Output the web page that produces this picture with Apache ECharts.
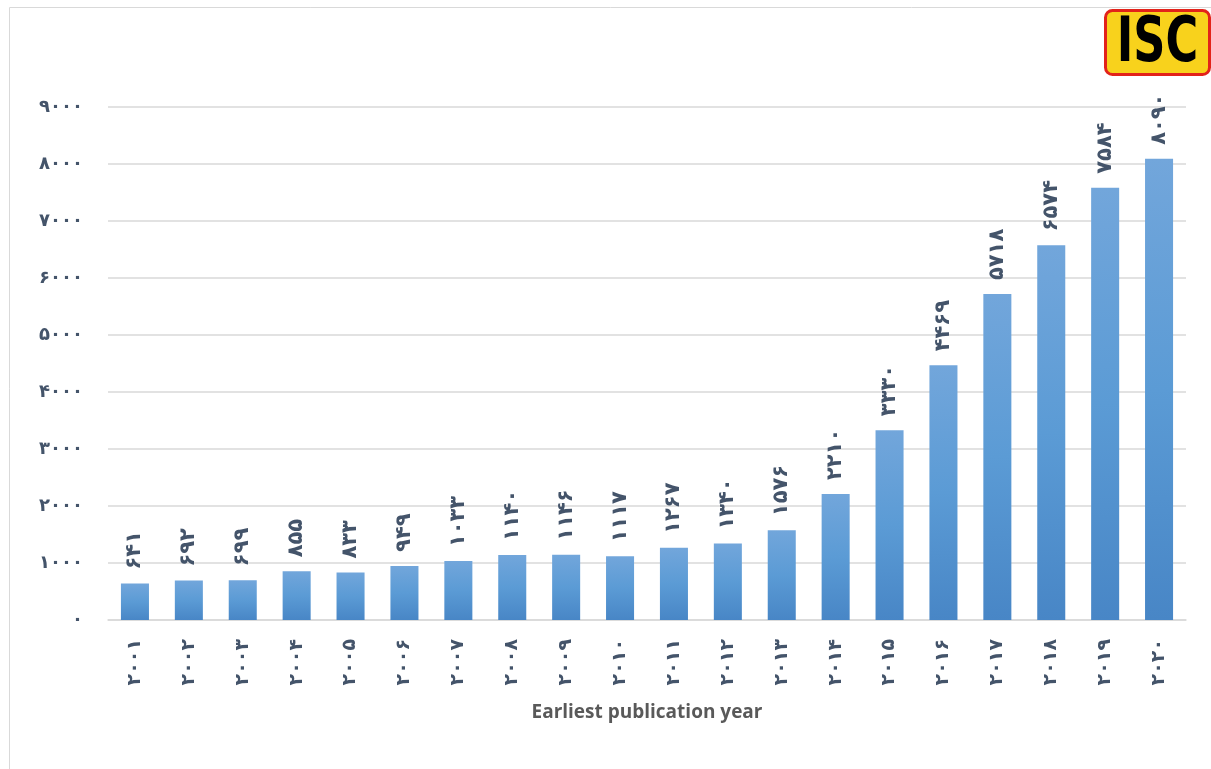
<!DOCTYPE html>
<html>
<head>
<meta charset="utf-8">
<script src="https://cdn.jsdelivr.net/npm/echarts@6/dist/echarts.min.js"></script>
<style>
  html, body { margin: 0; padding: 0; background: #fff; }
  #chart { width: 1211px; height: 769px; }
</style>
</head>
<body>
<div id="chart"></div>
<script>
// publication years and counts
const years = [2001, 2002, 2003, 2004, 2005, 2006, 2007, 2008, 2009, 2010,
               2011, 2012, 2013, 2014, 2015, 2016, 2017, 2018, 2019, 2020];
const counts = [641, 692, 699, 855, 833, 949, 1033, 1140, 1146, 1117,
                1267, 1340, 1576, 2210, 3330, 4469, 5718, 6574, 7584, 8090];
const yMax = 9000;
const yStep = 1000;
const xTitle = 'Earliest publication year';

// western digits -> persian digits
const fa = v => String(v).replace(/\d/g, d => '۰۱۲۳۴۵۶۷۸۹'[d]);

const labelColor = '#44546a';
const gridColor = '#d9d9d9';

const chart = echarts.init(document.getElementById('chart'));

chart.setOption({
  animation: false,
  grid: { left: 108, top: 107, width: 1078, height: 513, containLabel: false },
  xAxis: {
    type: 'category',
    data: years,
    axisLine: { lineStyle: { color: gridColor, width: 1.5 } },
    axisTick: { show: false },
    axisLabel: {
      rotate: 90,
      margin: 19,
      color: labelColor,
      fontFamily: 'DejaVu Sans',
      fontWeight: 'bold',
      fontSize: 19,
      formatter: v => fa(v)
    },
    name: xTitle,
    nameLocation: 'middle',
    nameGap: 83,
    nameTextStyle: {
      color: '#595959',
      fontFamily: 'Open Sans',
      fontWeight: 'bold',
      fontSize: 19
    }
  },
  yAxis: {
    type: 'value',
    min: 0,
    max: yMax,
    interval: yStep,
    axisLine: { show: false },
    axisTick: { show: false },
    splitLine: { lineStyle: { color: gridColor, width: 1.5 } },
    axisLabel: {
      margin: 25,
      color: labelColor,
      fontFamily: 'DejaVu Sans',
      fontWeight: 'bold',
      fontSize: 18,
      formatter: v => fa(v)
    }
  },
  series: [{
    type: 'bar',
    data: counts,
    barWidth: '52%',
    itemStyle: {
      color: new echarts.graphic.LinearGradient(0, 0, 0, 1, [
        { offset: 0, color: '#72a6db' },
        { offset: 0.5, color: '#5b9bd5' },
        { offset: 1, color: '#4886c6' }
      ])
    },
    label: {
      show: true,
      position: 'top',
      rotate: 90,
      align: 'left',
      verticalAlign: 'middle',
      distance: 14,
      color: labelColor,
      fontFamily: 'DejaVu Sans',
      fontWeight: 'bold',
      fontSize: 21,
      formatter: p => fa(p.value)
    }
  }],
  graphic: [
    {
      type: 'rect',
      left: 7, top: 5,
      shape: { width: 1230, height: 800 },
      style: { fill: 'none', stroke: '#d9d9d9', lineWidth: 1 },
      silent: true
    },
    {
      type: 'group',
      left: 1104, top: 9,
      children: [
        {
          type: 'rect',
          shape: { width: 104, height: 64, r: 7 },
          style: { fill: '#f8d21c', stroke: '#e2231a', lineWidth: 3 }
        },
        {
          type: 'text',
          x: 52, y: 34,
          scaleX: 0.72,
          style: {
            text: 'ISC',
            fill: '#000',
            font: '900 62px "DejaVu Sans"',
            align: 'center',
            verticalAlign: 'middle'
          }
        }
      ]
    }
  ]
});
</script>
</body>
</html>
